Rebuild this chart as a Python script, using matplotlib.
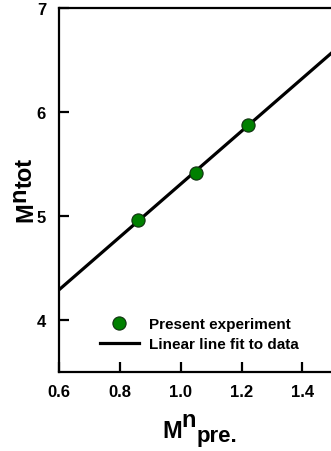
import numpy as np
import matplotlib
matplotlib.use('Agg')
import matplotlib.pyplot as plt

plt.rcParams['font.family'] = ['Liberation Sans', 'DejaVu Sans']
plt.rcParams['font.weight'] = 'bold'

# data
m_pre = [0.86, 1.05, 1.22]
m_tot = [4.96, 5.41, 5.88]
fit_x = [0.6, 1.5]
x_ticks = [0.6, 0.8, 1.0, 1.2, 1.4]
y_ticks = [4, 5, 6, 7]

W, H = 331, 452
fig = plt.figure(figsize=(W / 100, H / 100), dpi=100)
ax = fig.add_axes([0.177, 0.1754, 0.829, 0.804])

slope, intercept = np.polyfit(m_pre, m_tot, 1)
fx = np.array(fit_x)
ax.plot(fx, slope * fx + intercept, color='black', lw=2.3,
        label='Linear line fit to data', zorder=2)
ax.plot(m_pre, m_tot, 'o', color='#008000', mec='#103010', mew=0.8,
        markersize=9.5, label='Present experiment', linestyle='none', zorder=3)

ax.set_xlim(0.6, 1.5)
ax.set_ylim(3.5, 7)
ax.set_xticks(x_ticks)
ax.set_xticklabels([f'{t:.1f}' for t in x_ticks])
ax.set_yticks(y_ticks)
ax.tick_params(direction='in', length=7, width=1.6, labelsize=12, pad=9,
               top=False, right=False)
for s in ['left', 'bottom', 'top']:
    ax.spines[s].set_linewidth(1.6)
ax.spines['right'].set_visible(False)

handles, labels = ax.get_legend_handles_labels()
fig.legend(handles[::-1], labels[::-1], loc='upper left',
           bbox_to_anchor=(100 / W, (H - 318) / H),
           frameon=False, fontsize=11, handlelength=2.55,
           handletextpad=0.65, borderpad=0, borderaxespad=0,
           labelspacing=0.42)

# axis titles built piece by piece (full-size super/subscripts)
renderer = fig.canvas.get_renderer()


def put_pieces(pieces, x0, base, vertical=False):
    # pieces: (text, fontsize, raise px); x0/base in pixels from top-left
    pos = x0
    for txt, fs, up in pieces:
        if vertical:
            t = fig.text((base - up) / W, (H - pos) / H, txt, fontsize=fs,
                         fontweight='bold', rotation=90, rotation_mode='anchor',
                         ha='left', va='baseline')
            pos -= t.get_window_extent(renderer).height
        else:
            t = fig.text(pos / W, (H - base + up) / H, txt, fontsize=fs,
                         fontweight='bold', ha='left', va='baseline')
            pos += t.get_window_extent(renderer).width


# x title: M^n_pre.
put_pieces([('M', 17, 0), ('n', 17, 11), ('pre.', 16, -4)], 162, 438)
# y title: M^n tot
put_pieces([('M', 17, 0), ('n', 17, 7), ('tot', 17, 0)], 222, 32,
           vertical=True)

fig.savefig('out.png', dpi=100)
